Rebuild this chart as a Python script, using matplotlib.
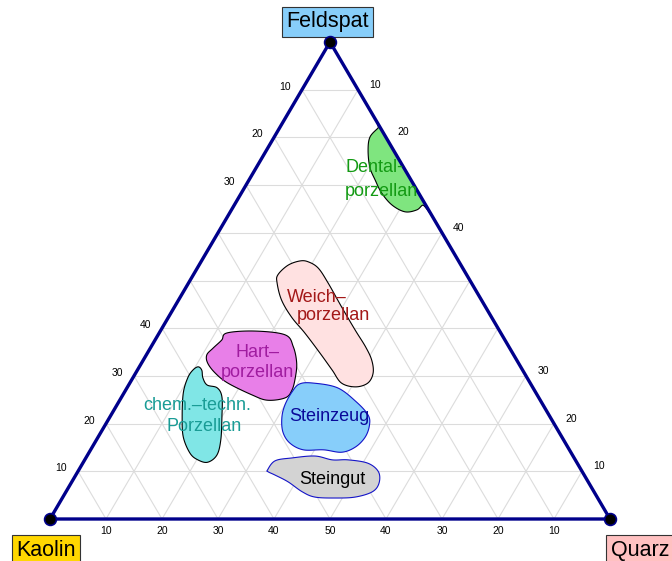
"""Ternary diagram Kaolin - Quarz - Feldspat with porcelain fields"""
import matplotlib
matplotlib.use('Agg')
import matplotlib.pyplot as plt
import numpy as np

plt.rcParams['font.family'] = ['Liberation Sans', 'DejaVu Sans']

# field outlines as (Feldspat %, Quarz %), Kaolin = rest
dental_f = [82.0, 80.1, 77.4, 73.8, 71.1, 68.3, 65.8, 64.4, 64.8, 65.8, 65.0, 82.4]
dental_q = [17.6, 17.1, 18.1, 20.2, 22.5, 25.1, 28.2, 31.2, 33.1, 33.7, 35.0, 17.6]

weich_f = [54.1, 53.2, 51.2, 49.5, 45.9, 42.3, 39.0, 34.8, 31.2, 28.5, 27.7, 28.5,
           30.6, 33.3, 36.1, 39.6, 44.4, 49.5, 52.6, 53.9]
weich_q = [17.6, 15.9, 15.1, 15.8, 18.4, 22.0, 26.0, 30.8, 34.8, 37.8, 40.7, 42.5,
           42.4, 40.8, 38.3, 34.7, 29.9, 24.9, 21.6, 19.2]

hart_f = [39.0, 39.4, 38.6, 36.1, 32.7, 29.6, 27.0, 25.4, 24.9, 26.0, 28.5, 30.6,
          32.7, 34.4, 35.8, 37.5]
hart_q = [12.1, 16.9, 22.7, 25.4, 27.7, 29.0, 29.7, 29.3, 26.4, 23.1, 17.5, 14.2,
          11.8, 10.8, 11.2, 11.9]

chem_f = [31.9, 31.2, 29.6, 28.1, 27.5, 25.6, 21.4, 16.6, 13.4, 11.9, 12.4, 13.8,
          17.2, 21.4, 26.4, 29.6, 31.2]
chem_q = [10.5, 11.5, 12.5, 14.0, 16.1, 17.9, 20.0, 22.2, 23.1, 22.2, 20.2, 18.1,
          15.2, 12.9, 10.6, 9.8, 9.9]

steinzeug_f = [28.3, 28.5, 27.5, 24.5, 21.8, 19.7, 17.2, 15.1, 14.0, 14.5, 14.5,
               15.9, 18.2, 21.2, 23.9, 26.6]
steinzeug_q = [30.4, 32.7, 37.6, 42.5, 45.9, 47.2, 47.7, 47.0, 45.1, 41.6, 38.0,
               34.9, 32.5, 30.8, 30.0, 29.9]

steingut_f = [10.3, 12.2, 12.8, 13.2, 12.4, 12.4, 11.7, 9.9, 7.5, 5.7, 4.6, 4.4,
              4.6, 5.7, 7.8, 9.2, 9.9]
steingut_q = [33.7, 34.1, 36.8, 40.7, 44.2, 47.0, 50.9, 53.7, 55.0, 54.7, 52.2, 48.7,
              45.0, 42.2, 38.6, 35.6, 34.0]

fields = [
    (dental_f, dental_q, '#7FE57F', 'black'),
    (weich_f, weich_q, '#FFE1E1', 'black'),
    (hart_f, hart_q, '#E87FE8', 'black'),
    (chem_f, chem_q, '#80E6E6', 'black'),
    (steinzeug_f, steinzeug_q, '#87CEFA', '#1414C8'),
    (steingut_f, steingut_q, '#D3D3D3', '#1414C8'),
]

# label lines: text, Feldspat %, Quarz %, colour
label_text = ['Dental-', 'porzellan', 'Weich\u2013', 'porzellan', 'Hart\u2013', 'porzellan',
              'chem.\u2013techn.', 'Porzellan', 'Steinzeug', 'Steingut']
label_f = [73.6, 68.6, 46.5, 42.6, 35.0, 30.8, 23.7, 19.3, 21.4, 8.2]
label_q = [21.1, 24.8, 24.4, 29.4, 19.5, 21.7, 14.5, 17.9, 39.1, 46.3]
label_col = ['#139A13', '#139A13', '#A31818', '#A31818', '#A01CA0', '#A01CA0',
             '#1A9C96', '#1A9C96', '#0A0A9A', 'black']

bottom_pos = [10, 20, 30, 40, 50, 60, 70, 80, 90]
bottom_lab = ['10', '20', '30', '40', '50', '40', '30', '20', '10']
left_pos = [10, 20, 30, 40, 70, 80, 90]
left_lab = ['10', '20', '30', '40', '30', '20', '10']
right_pos = [10, 20, 30, 60, 80, 90]
right_lab = ['10', '20', '30', '40', '20', '10']


def tern(f, q):
    f = np.asarray(f, dtype=float)
    q = np.asarray(q, dtype=float)
    return q / 100 + f / 200, f / 100


def smooth(x, y, n=16):
    p = np.column_stack([x, y])
    m = len(p)
    t = np.linspace(0, 1, n, endpoint=False)[:, None]
    out = []
    for i in range(m):
        p0, p1, p2, p3 = p[i - 1], p[i], p[(i + 1) % m], p[(i + 2) % m]
        out.append(0.5 * (2 * p1 + (-p0 + p2) * t + (2 * p0 - 5 * p1 + 4 * p2 - p3) * t ** 2
                          + (-p0 + 3 * p1 - 3 * p2 + p3) * t ** 3))
    out = np.vstack(out)
    return out[:, 0], out[:, 1]


fig = plt.figure(figsize=(6.72, 5.61), dpi=100)
ax = fig.add_axes([0, 0, 1, 1])
ax.set_xlim(-50 / 560, 622 / 560)
ax.set_ylim(-42 / 477, 519 / 477)
ax.axis('off')

# grid
for v in range(10, 100, 10):
    for a, b in [((v, 0), (v, 100 - v)), ((0, v), (100 - v, v)), ((0, 100 - v), (100 - v, 0))]:
        gx, gy = tern([a[0], b[0]], [a[1], b[1]])
        ax.plot(gx, gy, color='#DCDCDC', lw=0.8, zorder=1)

# fields
for ff, qq, fc, ec in fields:
    cx, cy = tern(ff, qq)
    sx, sy = smooth(cx, cy)
    ax.fill(sx, sy, facecolor=fc, edgecolor=ec, lw=0.8, zorder=2)

# triangle
vx, vy = tern([0, 0, 100, 0], [0, 100, 0, 0])
ax.plot(vx, vy, color='#00008B', lw=2.4, zorder=3, solid_joinstyle='miter')
ax.plot(vx[:3], vy[:3], 'o', ms=8.5, mfc='black', mec='#00008B', mew=1.2, zorder=4)

for txt, f, q, c in zip(label_text, label_f, label_q, label_col):
    lx, ly = tern(f, q)
    ax.text(lx, ly, txt, color=c, fontsize=13, ha='center', va='center', zorder=5)

# tick labels
for p, lab in zip(bottom_pos, bottom_lab):
    tx, ty = tern(0, p)
    ax.annotate(lab, (tx, ty), xytext=(0, -8.6), textcoords='offset points',
                ha='center', va='center', fontsize=7.5)
for p, lab in zip(left_pos, left_lab):
    tx, ty = tern(p, 0)
    ax.annotate(lab, (tx, ty), xytext=(-12.2, 2.2), textcoords='offset points',
                ha='center', va='center', fontsize=7.5)
for p, lab in zip(right_pos, right_lab):
    tx, ty = tern(p, 100 - p)
    ax.annotate(lab, (tx, ty), xytext=(12.2, 3.6), textcoords='offset points',
                ha='center', va='center', fontsize=7.5)

# vertex names
vertex_names = ['Kaolin', 'Quarz', 'Feldspat']
vertex_cols = ['#FFD700', '#FFC1C1', '#87CEFA']
vertex_off = [(-3, -22.5), (21.5, -22.5), (-2, 14.5)]
for name, col, off, x0, y0 in zip(vertex_names, vertex_cols, vertex_off, vx[:3], vy[:3]):
    ax.annotate(name, (x0, y0), xytext=off, textcoords='offset points', ha='center',
                va='center', fontsize=15.5, annotation_clip=False,
                bbox=dict(boxstyle='square,pad=0.2', fc=col, ec='#333333', lw=0.8))

fig.savefig('out.png', dpi=100)
